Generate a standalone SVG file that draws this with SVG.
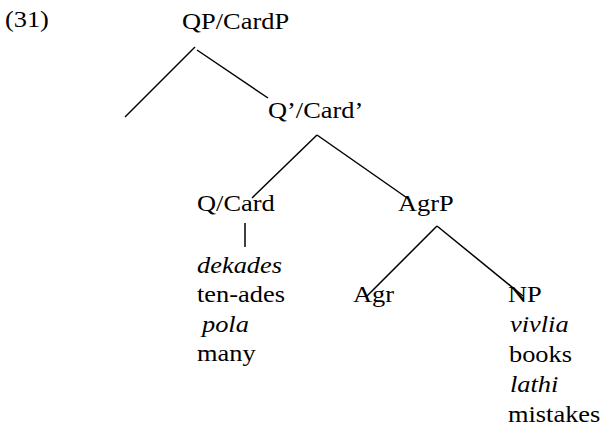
<svg xmlns="http://www.w3.org/2000/svg" width="605" height="431" viewBox="0 0 605 431">
<style>
text{font-size:24px;fill:#000}
.i{font-style:italic}
.e{stroke:#000;stroke-width:1.5;fill:none}
</style>
<rect width="605" height="431" fill="#fff"/>
<g id="edges">
<line class="e" x1="195" y1="47" x2="125" y2="117"/>
<line class="e" x1="197" y1="50" x2="268" y2="98"/>
<line class="e" x1="317" y1="135" x2="252" y2="198"/>
<line class="e" x1="317" y1="135" x2="410" y2="200"/>
<line class="e" x1="245" y1="223" x2="245" y2="247"/>
<line class="e" x1="437" y1="226" x2="366" y2="297"/>
<line class="e" x1="437" y1="226" x2="523" y2="296"/>
</g>
<g transform="scale(1.1 1)" font-family="'Liberation Serif', 'Times New Roman', 'DejaVu Serif', serif">
<g id="label31"><text x="4.5" y="27">(31)</text></g>
<g id="QP"><text x="165.5" y="29">QP/CardP</text></g>
<g id="Qbar"><text x="243.6" y="118">Q’/Card’</text></g>
<g id="Q"><text x="179.1" y="211">Q/Card</text></g>
<g id="AgrP"><text x="361.8" y="211">AgrP</text></g>
<g id="Qleaf">
<text class="i" x="179.1" y="273">dekades</text>
<text x="179.1" y="302.5">ten-ades</text>
<text class="i" x="183.6" y="332">pola</text>
<text x="179.1" y="361.5">many</text>
</g>
<g id="Agr"><text x="320.9" y="302">Agr</text></g>
<g id="NP">
<text x="461.8" y="302">NP</text>
<text class="i" x="463.6" y="332">vivlia</text>
<text x="462.7" y="362">books</text>
<text class="i" x="463.6" y="392">lathi</text>
<text x="461.8" y="422">mistakes</text>
</g>
</g>
</svg>
